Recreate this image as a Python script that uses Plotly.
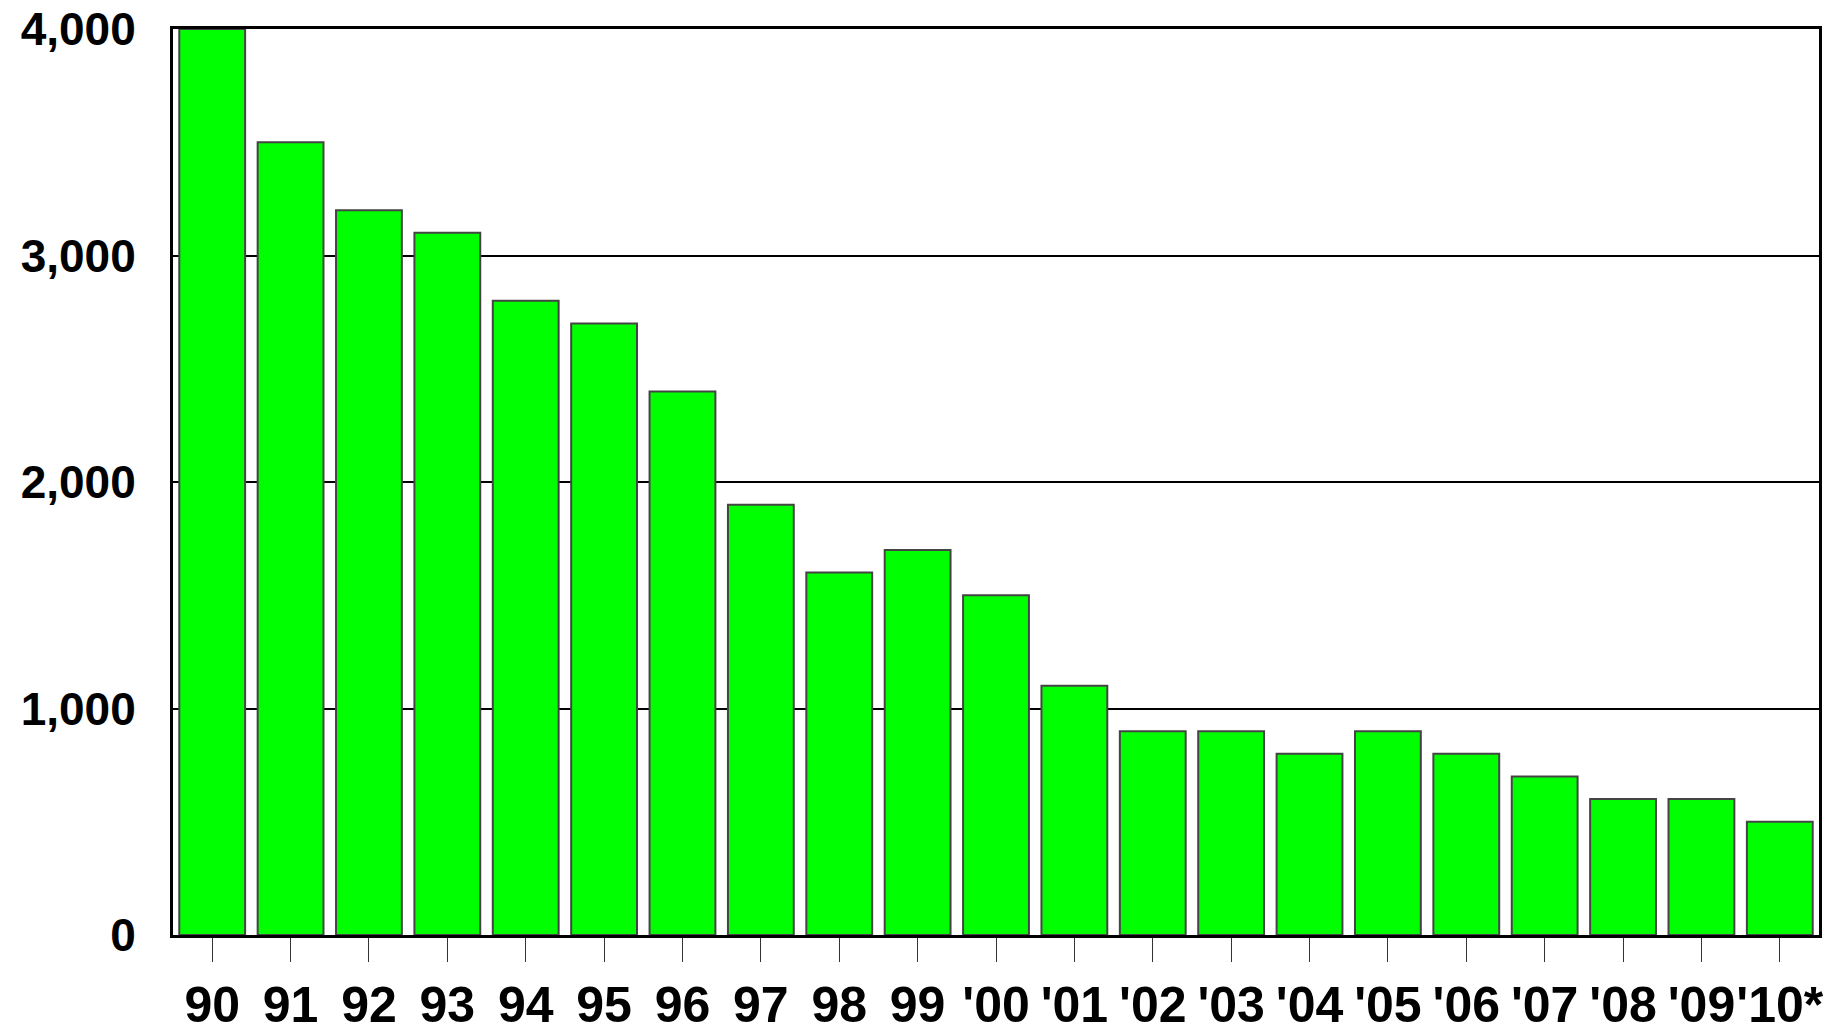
import plotly.graph_objects as go

years = ["90", "91", "92", "93", "94", "95", "96", "97", "98", "99", "'00",
         "'01", "'02", "'03", "'04", "'05", "'06", "'07", "'08", "'09", "'10*"]
values = [4000, 3500, 3200, 3100, 2800, 2700, 2400, 1900, 1600, 1700, 1500,
          1100, 900, 900, 800, 900, 800, 700, 600, 600, 500]

FONT = "Liberation Sans, Arial, sans-serif"

fig = go.Figure(go.Bar(
    x=years,
    y=values,
    marker=dict(color="#00FF00", line=dict(color="#444444", width=2)),
))

# page body adds an 8px offset, so the figure is a bit smaller than the window
fig.update_layout(
    width=1835,
    height=1019,
    margin=dict(l=165, r=24, t=21, b=92),
    paper_bgcolor="white",
    plot_bgcolor="white",
    bargap=0.16,
    showlegend=False,
    font=dict(family=FONT, color="black"),
)

fig.update_xaxes(
    type="category",
    tickangle=0,
    ticks="outside",
    ticklen=24,
    tickwidth=1,
    tickcolor="#333333",
    tickfont=dict(family=FONT, size=50, color="black", weight="bold"),
    ticklabeloverflow="allow",
    showline=True,
    linecolor="black",
    linewidth=3,
    mirror=True,
    showgrid=False,
    automargin=False,
)

fig.update_yaxes(
    range=[0, 4000],
    tickvals=[0, 1000, 2000, 3000, 4000],
    tickformat=",d",
    ticks="",
    ticklabelstandoff=25,
    ticklabeloverflow="allow",
    tickfont=dict(family=FONT, size=46, color="black", weight="bold"),
    showline=True,
    linecolor="black",
    linewidth=3,
    mirror=True,
    showgrid=True,
    gridcolor="black",
    gridwidth=2,
    zeroline=False,
    automargin=False,
)

fig.write_html("out.html")
